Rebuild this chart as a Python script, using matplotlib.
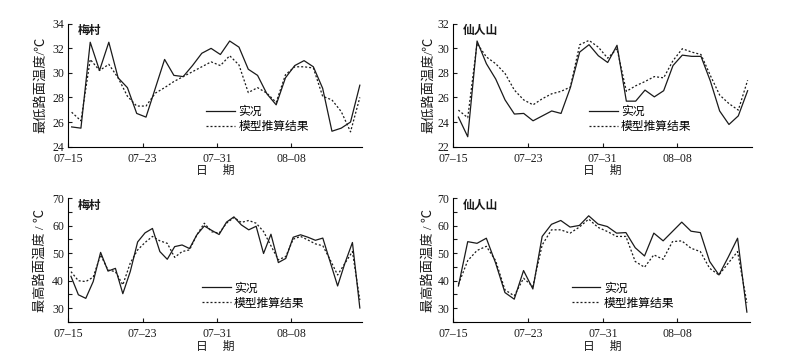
import matplotlib
matplotlib.use("Agg")
import matplotlib.pyplot as plt
from matplotlib.ticker import MultipleLocator
import numpy as np

plt.rcParams["font.family"] = ["Liberation Serif", "Noto Sans CJK SC"]
plt.rcParams["axes.linewidth"] = 0.8

# x axis: days after 07-15
tick_days = [0, 8, 16, 24]
tick_labels = ["07\u201315", "07\u201323", "07\u201331", "08\u201308"]

# 梅村 最低路面温度
meicun_min_obs = [25.6, 25.5, 32.5, 30.2, 32.5, 29.6, 28.8, 26.7, 26.4, 28.75,
                  31.1, 29.8, 29.7, 30.6, 31.6, 32.0, 31.5, 32.6, 32.1, 30.3,
                  29.8, 28.3, 27.4, 29.6, 30.6, 31.0, 30.5, 28.75, 25.25, 25.5,
                  26.0, 29.0]
meicun_min_model = [26.8, 26.1, 31.1, 30.2, 30.7, 29.6, 28.1, 27.3, 27.3, 28.35,
                    28.8, 29.3, 29.7, 30.1, 30.5, 30.9, 30.6, 31.4, 30.65, 28.4,
                    28.8, 28.35, 27.6, 29.85, 30.5, 30.5, 30.4, 28.1, 27.8, 26.85,
                    25.2, 28.0]

# 仙人山 最低路面温度
xrs_min_obs = [24.4, 22.8, 30.6, 28.75, 27.5, 25.8, 24.65, 24.7, 24.1, 24.5,
               24.9, 24.7, 26.8, 29.7, 30.3, 29.4, 28.85, 30.25, 25.7, 25.7,
               26.6, 26.05, 26.55, 28.6, 29.45, 29.35, 29.35, 27.35, 24.9, 23.8,
               24.5, 26.55]
xrs_min_model = [24.97, 24.35, 30.4, 29.3, 28.75, 27.95, 26.6, 25.8, 25.4, 25.9,
                 26.3, 26.5, 26.85, 30.3, 30.65, 30.1, 29.2, 29.97, 26.5, 26.95,
                 27.3, 27.7, 27.6, 29.0, 29.97, 29.7, 29.5, 27.8, 26.2, 25.5,
                 24.97, 27.4]

# 梅村 最高路面温度
meicun_max_obs = [41.6, 34.9, 33.6, 39.7, 50.3, 43.5, 44.5, 35.3, 43.3, 54.1,
                  57.4, 59.0, 50.6, 47.8, 52.4, 53.0, 51.7, 56.7, 59.9, 58.3,
                  56.8, 61.3, 63.2, 60.3, 58.5, 59.8, 49.9, 56.9, 46.6, 48.1,
                  55.8, 56.7, 55.8, 54.7, 55.5, 46.8, 38.1, 46.5, 53.9, 30.1]
meicun_max_model = [43.3, 40.0, 39.7, 41.3, 49.4, 43.9, 43.3, 38.5, 46.4, 51.2,
                    53.9, 56.1, 54.5, 53.6, 48.5, 50.6, 51.2, 56.7, 60.9, 57.8,
                    57.3, 60.9, 63.0, 61.2, 61.9, 60.9, 57.9, 52.7, 47.6, 48.8,
                    55.1, 56.1, 54.8, 53.4, 52.7, 47.6, 42.1, 46.4, 50.6, 33.0]

# 仙人山 最高路面温度
xrs_max_obs = [38.1, 54.2, 53.6, 55.45, 46.4, 35.7, 33.3, 43.7, 37.0, 56.1,
               60.5, 61.9, 59.5, 60.1, 63.6, 60.6, 59.7, 57.3, 57.5, 52.0,
               49.0, 57.3, 54.5, 57.9, 61.3, 58.0, 57.5, 47.0, 42.1, 48.6,
               55.45, 28.6]
xrs_max_model = [38.7, 47.3, 51.0, 52.5, 47.3, 36.7, 34.5, 40.9, 37.9, 53.0,
                 58.5, 58.5, 57.3, 59.5, 62.4, 59.4, 57.9, 56.1, 56.1, 47.0,
                 44.9, 49.4, 47.8, 54.2, 54.5, 51.8, 50.6, 44.5, 42.1, 46.4,
                 50.6, 32.0]

panels = [
    # (obs, model, station, ylabel, ylim, major, minor, first x, last x, axes rect, x right, legend anchor)
    (meicun_min_obs, meicun_min_model, "梅村", "最低路面温度/℃", (24, 34), 2, None,
     0.36, 31.36, [0.086, 0.594, 0.370, 0.340], 31.6, (0.47, 0.22)),
    (xrs_min_obs, xrs_min_model, "仙人山", "最低路面温度/℃", (22, 32), 2, None,
     0.54, 31.54, [0.571, 0.594, 0.376, 0.340], 32.0, (0.455, 0.22)),
    (meicun_max_obs, meicun_max_model, "梅村", "最高路面温度 / ℃", (25, 70), 10, 5,
     0.29, 31.36, [0.086, 0.108, 0.370, 0.343], 31.6, (0.456, 0.21)),
    (xrs_max_obs, xrs_max_model, "仙人山", "最高路面温度 / ℃", (25, 70), 10, 5,
     0.54, 31.43, [0.571, 0.108, 0.374, 0.343], 31.8, (0.40, 0.21)),
]

fig = plt.figure(figsize=(7.94, 3.61), dpi=100)

for obs, model, station, ylabel, ylim, major, minor, x0, x1, rect, xr, leg in panels:
    ax = fig.add_axes(rect)
    x = np.linspace(x0, x1, len(obs))
    ax.plot(x, obs, color="#1a1a1a", lw=0.9, label="实况")
    ax.plot(x, model, color="#1a1a1a", lw=0.9, ls=(0, (1.6, 1.6)), label="模型推算结果")

    ax.set_xlim(0, xr)
    ax.set_ylim(*ylim)
    ax.set_xticks(tick_days)
    ax.set_xticklabels(tick_labels)
    if major == 10:
        ax.set_yticks([30, 40, 50, 60, 70])
    else:
        ax.yaxis.set_major_locator(MultipleLocator(major))
    if minor:
        ax.yaxis.set_minor_locator(MultipleLocator(minor))

    ax.spines["top"].set_visible(False)
    ax.spines["right"].set_visible(False)
    ax.tick_params(axis="both", which="both", direction="in", labelsize=8.5,
                   length=3, width=0.8, colors="#1a1a1a")
    ax.tick_params(axis="x", pad=4.4)
    ax.tick_params(axis="y", pad=3)

    ax.text(0.033, 0.94, station, transform=ax.transAxes, ha="left", va="center",
            fontsize=8.5, fontweight="bold", color="#1a1a1a")
    ax.set_xlabel("日     期", fontsize=8.5, color="#1a1a1a")
    ax.xaxis.set_label_coords(0.5, -0.15)
    ax.set_ylabel(ylabel, fontsize=9.5, color="#1a1a1a")
    ax.yaxis.set_label_coords(-0.072 if rect[0] < 0.5 else -0.062, 0.5)

    ax.legend(loc="center left", bbox_to_anchor=leg, frameon=False, fontsize=8.5,
              handlelength=2.4, handletextpad=0.3, labelspacing=0.25,
              borderpad=0, borderaxespad=0)

fig.savefig("out.png", dpi=100)
